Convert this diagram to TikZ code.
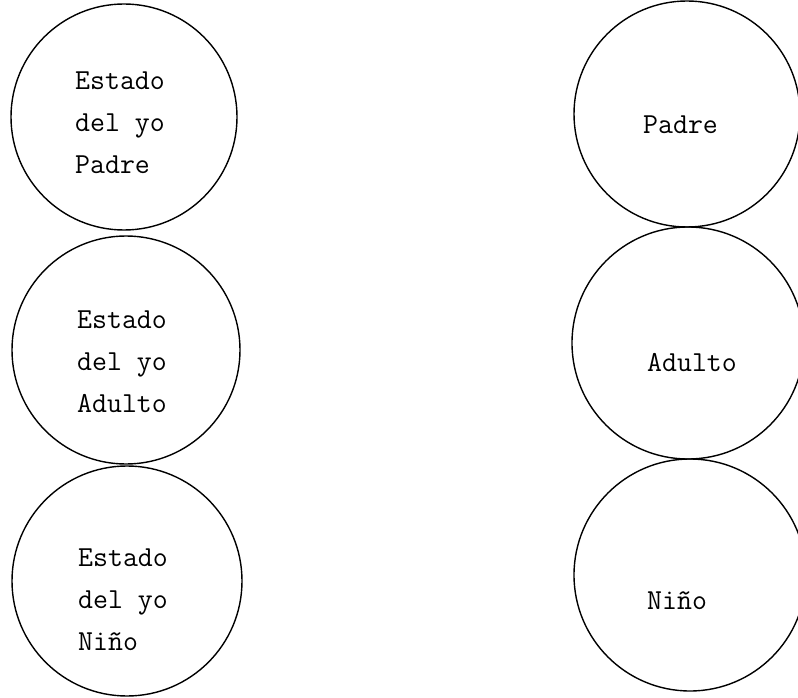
\documentclass[tikz,border=0pt]{standalone}
\begin{document}
\begin{tikzpicture}[x=1pt,y=-1pt,
  ring/.style={draw=black,line width=1.4pt,circle,inner sep=0pt},
  lbl/.style={font=\ttfamily\fontsize{29}{42}\selectfont,align=left,inner sep=0pt,text=black}]
\useasboundingbox (0,0) rectangle (798,698);
% left column
\node[ring,minimum size=226pt] (l1) at (124,117) {};
\node[ring,minimum size=228pt] (l2) at (126,350) {};
\node[ring,minimum size=230pt] (l3) at (127,581) {};
\node[lbl,anchor=west] (t1) at (75,123) {Estado\\del yo\\Padre};
\node[lbl,anchor=west] (t2) at (77,362) {Estado\\del yo\\Adulto};
\node[lbl,anchor=west] (t3) at (78,600) {Estado\\del yo\\Niño};
% right column
\node[ring,minimum size=226pt] (r1) at (687,114) {};
\node[ring,minimum size=232pt] (r2) at (688,343) {};
\node[ring,minimum size=232pt] (r3) at (690,575) {};
\node[lbl,anchor=west] (u1) at (643,125) {Padre};
\node[lbl,anchor=west] (u2) at (647,363) {Adulto};
\node[lbl,anchor=west] (u3) at (647,601) {Niño};
\end{tikzpicture}
\end{document}
